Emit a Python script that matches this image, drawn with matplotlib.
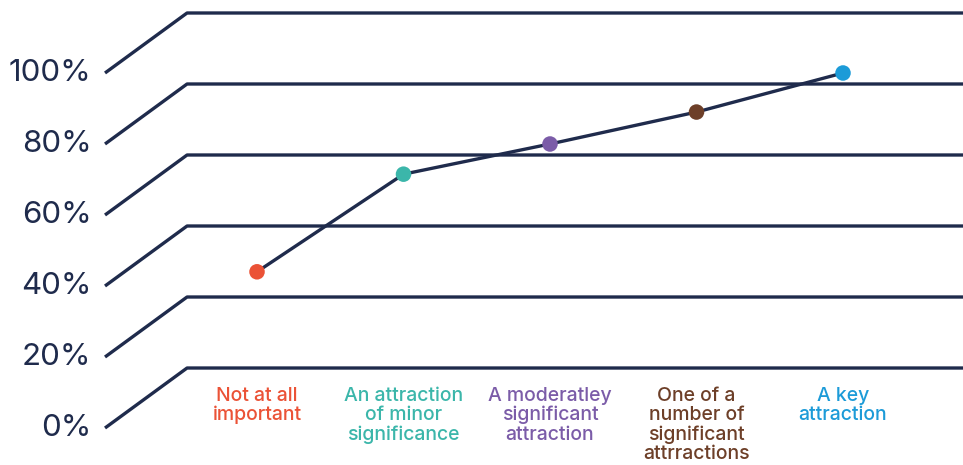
import matplotlib
matplotlib.use('Agg')
import matplotlib.pyplot as plt

# Share of respondents (cumulative) by how important the attraction was
categories = ['Not at all\nimportant', 'An attraction\nof minor\nsignificance',
              'A moderatley\nsignificant\nattraction', 'One of a\nnumber of\nsignificant\nattrractions',
              'A key\nattraction']
values = [44, 71.5, 80, 89, 100]
point_colors = ['#EB5236', '#3BB6AA', '#7B5CA8', '#6D3F28', '#1C9BD8']
y_ticks = [0, 20, 40, 60, 80, 100]
tick_labels = ['0%', '20%', '40%', '60%', '80%', '100%']

navy = '#1F2B4C'
plt.rcParams['font.family'] = ['Inter', 'DejaVu Sans']

fig = plt.figure(figsize=(9.63, 4.65), dpi=100)
ax = fig.add_axes([0, 0, 1, 1])
ax.set_xlim(-1.7543, 4.8191)
ax.set_ylim(-10.42, 120.56)
ax.axis('off')

# pseudo-3D walls: each gridline runs diagonally back, then along the back wall
depth_x, depth_y = 0.56, 16.9
front_x = -1.0375
for v in y_ticks:
    ax.plot([front_x, front_x + depth_x, 4.9], [v, v + depth_y, v + depth_y],
            color=navy, lw=2.4, solid_capstyle='butt', zorder=1)

for v, lab in zip(y_ticks, tick_labels):
    ax.text(-1.13, v, lab, ha='right', va='center', fontsize=22.5, color=navy)

xs = list(range(len(values)))
ax.plot(xs, values, color=navy, lw=2.4, zorder=2)
ax.scatter(xs, values, s=125, c=point_colors, zorder=3, linewidths=0)

for x, lab, c in zip(xs, categories, point_colors):
    ax.text(x, 11.6, lab, ha='center', va='top', fontsize=14, color=c,
            fontweight='medium', linespacing=1.08)

fig.savefig('out.png', dpi=100)
